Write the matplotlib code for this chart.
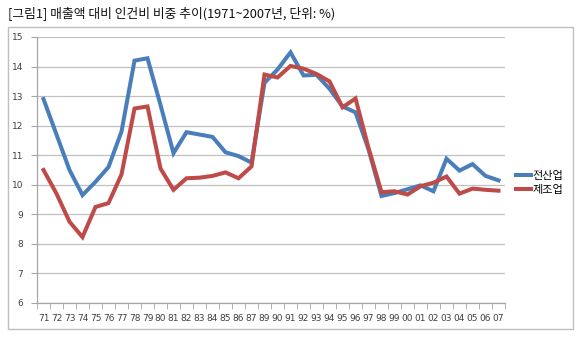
import matplotlib
matplotlib.use("Agg")
import matplotlib.pyplot as plt
from matplotlib.patches import Rectangle

plt.rcParams['font.family'] = ['Noto Sans CJK KR', 'DejaVu Sans']

# 연도 (1988 없음)
years = ['71', '72', '73', '74', '75', '76', '77', '78', '79', '80', '81', '82',
         '83', '84', '85', '86', '87', '89', '90', '91', '92', '93', '94', '95',
         '96', '97', '98', '99', '00', '01', '02', '03', '04', '05', '06', '07']

# 전산업
all_ind = [12.9, 11.7, 10.5, 9.65, 10.1, 10.6, 11.8, 14.2, 14.28, 12.7, 11.07, 11.78,
           11.7, 11.62, 11.1, 10.97, 10.75, 13.45, 13.9, 14.48, 13.7, 13.72, 13.25, 12.65,
           12.45, 11.2, 9.62, 9.72, 9.85, 9.98, 9.78, 10.88, 10.48, 10.7, 10.3, 10.15]

# 제조업
manuf = [10.5, 9.7, 8.75, 8.23, 9.25, 9.38, 10.35, 12.58, 12.65, 10.55, 9.83, 10.22,
         10.24, 10.3, 10.42, 10.22, 10.62, 13.73, 13.63, 14.02, 13.93, 13.75, 13.5, 12.62,
         12.92, 11.25, 9.75, 9.78, 9.67, 9.95, 10.07, 10.28, 9.7, 9.87, 9.83, 9.8]

yticks = [6, 7, 8, 9, 10, 11, 12, 13, 14, 15]

fig = plt.figure(figsize=(5.84, 3.41), dpi=100)

# 제목
fig.text(8 / 584, 1 - 13 / 341, '[그림1] 매출액 대비 인건비 비중 추이(1971~2007년, 단위: %)',
         fontsize=9.2, va='center', ha='left', color='#111111')

# 차트 테두리
fig.patches.append(Rectangle((8 / 584, 1 - 329 / 341), 565 / 584, 302 / 341,
                             transform=fig.transFigure, fill=False,
                             edgecolor='#bfbfbf', linewidth=1.0))

ax = fig.add_axes([37 / 584, 1 - 303 / 341, 468 / 584, 266 / 341])

x = list(range(len(years)))
ax.plot(x, all_ind, color='#4a7ebb', linewidth=2.9, label='전산업', solid_joinstyle='miter')
ax.plot(x, manuf, color='#be4b48', linewidth=2.9, label='제조업', solid_joinstyle='miter')

ax.set_xlim(-0.5, len(years) - 0.5)
ax.set_ylim(6, 15)
ax.set_yticks(yticks)
ax.set_yticklabels([str(v) for v in yticks], fontsize=6.5, color='#404040',
                   family='DejaVu Sans')
ax.set_xticks(x)
ax.set_xticklabels(years, fontsize=6.5, color='#404040', family='DejaVu Sans')
ax.set_xticks([i - 0.5 for i in range(len(years) + 1)], minor=True)

ax.grid(axis='y', color='#c0c0c0', linewidth=0.9)
ax.set_axisbelow(True)
for side in ['top', 'right']:
    ax.spines[side].set_visible(False)
for side in ['left', 'bottom']:
    ax.spines[side].set_color('#a6a6a6')
    ax.spines[side].set_linewidth(0.9)

ax.tick_params(axis='x', which='major', length=0, pad=8)
ax.tick_params(axis='x', which='minor', length=4, color='#a6a6a6', direction='out')
ax.tick_params(axis='y', length=4, color='#a6a6a6', pad=6)

ax.legend(loc='center left', bbox_to_anchor=(1.0, 0.45), frameon=False,
          fontsize=8, handlelength=1.3, handletextpad=0.2, labelspacing=0.35,
          borderaxespad=0.6)

fig.savefig('out.png', dpi=100)
